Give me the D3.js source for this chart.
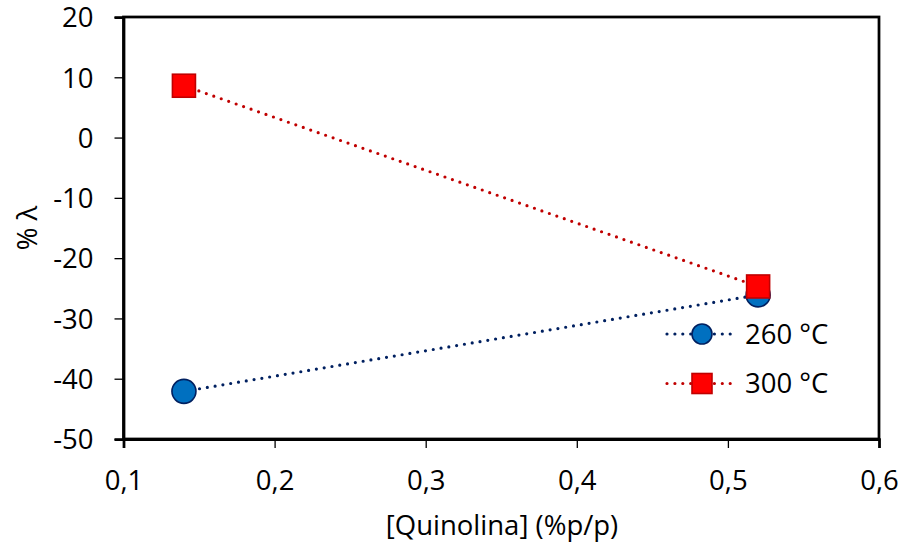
<!DOCTYPE html>
<html>
<head>
<meta charset="utf-8">
<script src="https://cdn.jsdelivr.net/npm/d3@7/dist/d3.min.js"></script>
<style>
  html, body { margin: 0; padding: 0; background: #fff; }
  svg { display: block; font-family: "Open Sans", "Noto Sans", sans-serif; }
</style>
</head>
<body>
<svg id="chart" width="905" height="548"></svg>
<script>
// Quinoline concentration (%p/p) and % lambda for each temperature
const quinolina = [0.14, 0.52];
const lambda260 = [-42.1, -26.1];
const lambda300 = [8.6, -24.7];
const seriesNames = ["260 °C", "300 °C"];
const xTicks = [0.1, 0.2, 0.3, 0.4, 0.5, 0.6];
const yTicks = [20, 10, 0, -10, -20, -30, -40, -50];

const FONT = 27.5;
const svg = d3.select("#chart");
const m = { left: 123.5, right: 879, top: 17, bottom: 439 };

const x = d3.scaleLinear().domain([0.1, 0.6]).range([m.left, m.right]);
const y = d3.scaleLinear().domain([-50, 20]).range([m.bottom, m.top]);
const fmtX = d => d3.format(".1f")(d).replace(".", ",");
const fmtY = d => String(d);

// frame
svg.append("rect")
  .attr("x", m.left).attr("y", m.top)
  .attr("width", m.right - m.left).attr("height", m.bottom - m.top)
  .attr("fill", "none").attr("stroke", "#000").attr("stroke-width", 2.75);

// axes
const xAxis = svg.append("g").attr("transform", `translate(0,${m.bottom})`)
  .call(d3.axisBottom(x).tickValues(xTicks).tickFormat(fmtX).tickSize(9));
const yAxis = svg.append("g").attr("transform", `translate(${m.left},0)`)
  .call(d3.axisLeft(y).tickValues(yTicks).tickFormat(fmtY).tickSize(9).tickPadding(21));
[xAxis, yAxis].forEach(g => {
  g.select(".domain").attr("stroke", "#000").attr("stroke-width", 2.75);
  g.selectAll(".tick line").attr("stroke", "#000").attr("stroke-width", 1.3);
  g.selectAll(".tick text").attr("fill", "#000")
    .style("font-size", FONT + "px").style("font-family", "'Open Sans', sans-serif");
});
xAxis.selectAll(".tick text").attr("y", 51).attr("dy", 0);
yAxis.selectAll(".tick text").attr("dy", "0.357em");

// axis titles
svg.append("text").attr("x", 502).attr("y", 535)
  .attr("text-anchor", "middle").style("font-size", FONT + "px").text("[Quinolina] (%p/p)");
svg.append("text").attr("transform", "translate(37,228) rotate(-90)")
  .attr("text-anchor", "middle").style("font-size", FONT + "px").text("% λ");

const line = d3.line().x(d => x(d[0])).y(d => y(d[1]));
const series = [
  { name: seriesNames[0], vals: lambda260, line: "#002060", fill: "#0070C0", stroke: "#002060", shape: "circle" },
  { name: seriesNames[1], vals: lambda300, line: "#C00000", fill: "#FF0000", stroke: "#C00000", shape: "square" }
];

function marker(g, s, cx, cy, size) {
  if (s.shape === "circle") {
    g.append("circle").attr("cx", cx).attr("cy", cy).attr("r", size / 2)
      .attr("fill", s.fill).attr("stroke", s.stroke).attr("stroke-width", 1.6);
  } else {
    g.append("rect").attr("x", cx - size / 2).attr("y", cy - size / 2)
      .attr("width", size).attr("height", size)
      .attr("fill", s.fill).attr("stroke", s.stroke).attr("stroke-width", 1.6);
  }
}

series.forEach(s => {
  const g = svg.append("g");
  const pts = quinolina.map((q, i) => [q, s.vals[i]]);
  g.append("path").attr("d", line(pts)).attr("fill", "none")
    .attr("stroke", s.line).attr("stroke-width", 3.2)
    .attr("stroke-linecap", "round").attr("stroke-dasharray", "0 7.9");
  pts.forEach(p => marker(g, s, x(p[0]), y(p[1]), s.shape === "circle" ? 24 : 23));
});

// legend
series.forEach((s, i) => {
  const ly = 334 + i * 49.5;
  const g = svg.append("g");
  g.append("line").attr("x1", 667).attr("x2", 737).attr("y1", ly).attr("y2", ly)
    .attr("stroke", s.line).attr("stroke-width", 3.2)
    .attr("stroke-linecap", "round").attr("stroke-dasharray", "0 7.9");
  marker(g, s, 702, ly, 20);
  g.append("text").attr("x", 745).attr("y", ly).attr("dy", "0.357em")
    .style("font-size", FONT + "px").text(s.name);
});
</script>
</body>
</html>
